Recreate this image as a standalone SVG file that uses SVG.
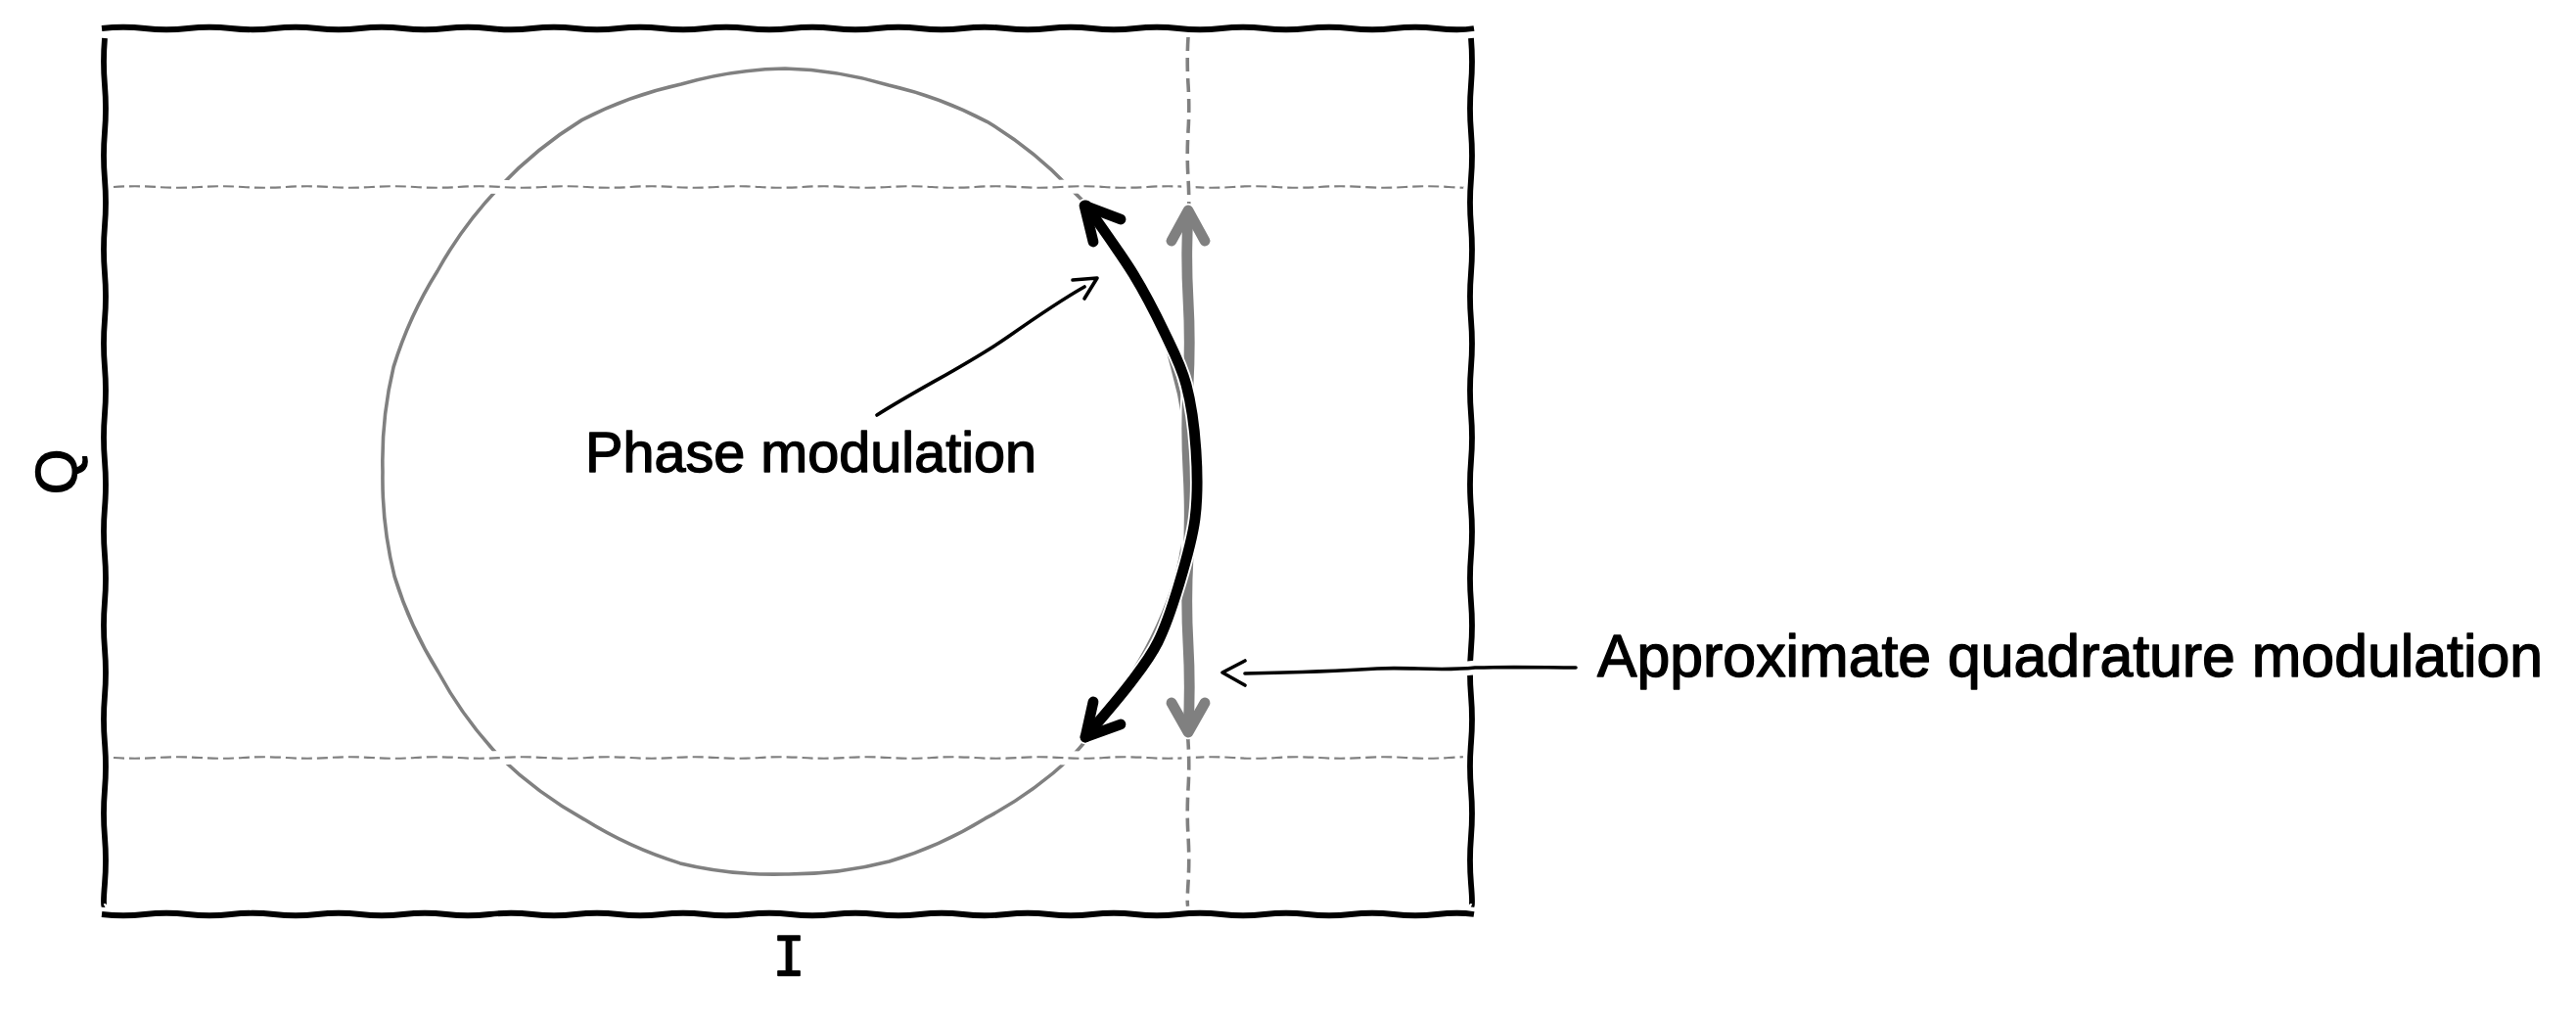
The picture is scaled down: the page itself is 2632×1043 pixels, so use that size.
<svg xmlns="http://www.w3.org/2000/svg" xmlns:xlink="http://www.w3.org/1999/xlink" width="2632" height="1043" viewBox="0 0 2632 1043">
<style>
.halo{fill:none;stroke:#ffffff;stroke-width:14.4;stroke-linecap:round;stroke-linejoin:round}
.spine{fill:none;stroke:#000000;stroke-width:5.8;stroke-linecap:butt}
.circ{fill:none;stroke:#808080;stroke-width:3.6}
.hdash{fill:none;stroke:#808080;stroke-width:2.2;stroke-dasharray:11 5}
.vdash{fill:none;stroke:#808080;stroke-width:3.6;stroke-dasharray:14 7}
.garrow{fill:none;stroke:#808080;stroke-width:10.8;stroke-linecap:round;stroke-linejoin:round}
.barrow{fill:none;stroke:#000000;stroke-width:10.8;stroke-linecap:round;stroke-linejoin:round}
.ann{fill:none;stroke:#000000;stroke-width:3.6;stroke-linecap:round;stroke-linejoin:round}
.txt{font-family:"Liberation Sans",Arial,sans-serif;fill:#000000;stroke:#000000;stroke-width:1.4;stroke-linejoin:round}
.mono{font-family:"DejaVu Sans Mono","Liberation Mono",monospace;fill:#000000;stroke:#000000;stroke-width:1.4;stroke-linejoin:round}
</style>
<defs>
<path id="spTop" d="M104 29 Q126 26.5 148 29 T192 29 T236 29 T280 29 T324 29 T368 29 T412 29 T456 29 T500 29 T544 29 T588 29 T632 29 T676 29 T720 29 T764 29 T808 29 T852 29 T896 29 T940 29 T984 29 T1028 29 T1072 29 T1116 29 T1160 29 T1204 29 T1248 29 T1292 29 T1336 29 T1380 29 T1424 29 T1468 29 T1506 29"/>
<path id="spBot" d="M104 934 Q126 936.5 148 934 T192 934 T236 934 T280 934 T324 934 T368 934 T412 934 T456 934 T500 934 T544 934 T588 934 T632 934 T676 934 T720 934 T764 934 T808 934 T852 934 T896 934 T940 934 T984 934 T1028 934 T1072 934 T1116 934 T1160 934 T1204 934 T1248 934 T1292 934 T1336 934 T1380 934 T1424 934 T1468 934 T1506 934"/>
<path id="spLeft" d="M107 39 Q105 63 107 87 T107 135 T107 183 T107 231 T107 279 T107 327 T107 375 T107 423 T107 471 T107 519 T107 567 T107 615 T107 663 T107 711 T107 759 T107 807 T107 855 T107 903 T107 926"/>
<path id="spRight" d="M1503 39 Q1505 63 1503 87 T1503 135 T1503 183 T1503 231 T1503 279 T1503 327 T1503 375 T1503 423 T1503 471 T1503 519 T1503 567 T1503 615 T1503 663 T1503 711 T1503 759 T1503 807 T1503 855 T1503 903 T1503 926"/>
<path id="hd1" d="M116 191 Q138 189.5 160 191 T204 191 T248 191 T292 191 T336 191 T380 191 T424 191 T468 191 T512 191 T556 191 T600 191 T644 191 T688 191 T732 191 T776 191 T820 191 T864 191 T908 191 T952 191 T996 191 T1040 191 T1084 191 T1128 191 T1172 191 T1216 191 T1260 191 T1304 191 T1348 191 T1392 191 T1436 191 T1480 191 T1495 191"/>
<path id="hd2" d="M116 774 Q138 775.5 160 774 T204 774 T248 774 T292 774 T336 774 T380 774 T424 774 T468 774 T512 774 T556 774 T600 774 T644 774 T688 774 T732 774 T776 774 T820 774 T864 774 T908 774 T952 774 T996 774 T1040 774 T1084 774 T1128 774 T1172 774 T1216 774 T1260 774 T1304 774 T1348 774 T1392 774 T1436 774 T1480 774 T1495 774"/>
<path id="vd" d="M1214 38 Q1212.5 62 1214 86 T1214 134 T1214 182 T1214 230 T1214 278 T1214 326 T1214 374 T1214 422 T1214 470 T1214 518 T1214 566 T1214 614 T1214 662 T1214 710 T1214 758 T1214 806 T1214 854 T1214 902 T1214 927"/>
<path id="gShaft" d="M1214 218 Q1211.5 262 1214 306 T1214 394 T1214 482 T1214 570 T1214 658 T1214 746"/>
<path id="gHeadTop" d="M1197 246 L1214 215 L1231 246"/>
<path id="gHeadBot" d="M1197 718 L1214 748 L1231 718"/>
<path id="bArc" d="M1110 210 C1118 221.7 1144.7 258.3 1158 280 C1171.3 301.7 1181 321.2 1190 340 C1199 358.8 1206.7 373 1212 393 C1217.3 413 1220.5 437.2 1222 460 C1223.5 482.8 1224 506.8 1221 530 C1218 553.2 1210.3 578 1204 599 C1197.7 620 1191.3 639.3 1183 656 C1174.7 672.7 1166.3 682.8 1154 699 C1141.7 715.2 1116.5 744 1109 753"/>
<path id="bHeadTop" d="M1117 247 L1108 210 L1145 224"/>
<path id="bHeadBot" d="M1117 717 L1109 753 L1145 740"/>
<path id="aPhase" d="M896 424 C940 396 990 372 1030 344 C1060 323 1085 306 1108 293"/>
<path id="aPhaseHead" d="M1096 286 L1121 284 L1108 305"/>
<path id="aQuad" d="M1272 688 C1320 687 1360 686 1407 683 C1440 681 1470 686 1507 682 C1550 681 1580 682 1610 682"/>
<path id="aQuadHead" d="M1272 675 L1249 687 L1272 700"/>
</defs>

<g id="circle">
<path class="circ" d="M1214 482 A412 412 0 0 1 1201.9 589.1 A412 412 0 0 1 1157.1 687 A412 412 0 0 1 1094 774 A412 412 0 0 1 1006.5 836.2 A412 412 0 0 1 908.6 880 A412 412 0 0 1 802 893 A412 412 0 0 1 694.9 881.9 A412 412 0 0 1 597 837.1 A412 412 0 0 1 510.7 773.3 A412 412 0 0 1 447.8 686.5 A412 412 0 0 1 403.1 588.9 A412 412 0 0 1 391 482 A412 412 0 0 1 402.1 374.9 A412 412 0 0 1 446.9 277 A412 412 0 0 1 510.7 190.7 A412 412 0 0 1 594.5 122.6 A412 412 0 0 1 695.9 86 A412 412 0 0 1 802 70 A412 412 0 0 1 907.9 86.9 A412 412 0 0 1 1008.5 124.3 A412 412 0 0 1 1092.6 191.4 A412 412 0 0 1 1160.5 275 A412 412 0 0 1 1198 375.9 A412 412 0 0 1 1214 482 Z"/>
</g>

<g id="guides">
<use xlink:href="#hd1" href="#hd1" class="halo"/>
<use xlink:href="#hd1" href="#hd1" class="hdash"/>
<use xlink:href="#hd2" href="#hd2" class="halo"/>
<use xlink:href="#hd2" href="#hd2" class="hdash"/>
<use xlink:href="#vd" href="#vd" class="halo"/>
<use xlink:href="#vd" href="#vd" class="vdash"/>
</g>

<g id="axes-frame">
<use xlink:href="#spLeft" href="#spLeft" class="halo"/>
<use xlink:href="#spLeft" href="#spLeft" class="spine"/>
<use xlink:href="#spRight" href="#spRight" class="halo"/>
<use xlink:href="#spRight" href="#spRight" class="spine"/>
<use xlink:href="#spTop" href="#spTop" class="halo"/>
<use xlink:href="#spTop" href="#spTop" class="spine"/>
<use xlink:href="#spBot" href="#spBot" class="halo"/>
<use xlink:href="#spBot" href="#spBot" class="spine"/>
</g>

<g id="connectors">
<g id="quadrature-arrow">
<use xlink:href="#gShaft" href="#gShaft" class="halo"/>
<use xlink:href="#gHeadTop" href="#gHeadTop" class="halo"/>
<use xlink:href="#gHeadBot" href="#gHeadBot" class="halo"/>
<use xlink:href="#gShaft" href="#gShaft" class="garrow"/>
<use xlink:href="#gHeadTop" href="#gHeadTop" class="garrow"/>
<use xlink:href="#gHeadBot" href="#gHeadBot" class="garrow"/>
</g>
<g id="phase-arrow">
<use xlink:href="#bArc" href="#bArc" class="halo"/>
<use xlink:href="#bHeadTop" href="#bHeadTop" class="halo"/>
<use xlink:href="#bHeadBot" href="#bHeadBot" class="halo"/>
<use xlink:href="#bArc" href="#bArc" class="barrow"/>
<use xlink:href="#bHeadTop" href="#bHeadTop" class="barrow"/>
<use xlink:href="#bHeadBot" href="#bHeadBot" class="barrow"/>
</g>
<g id="phase-annotation">
<use xlink:href="#aPhase" href="#aPhase" class="halo"/>
<use xlink:href="#aPhaseHead" href="#aPhaseHead" class="halo"/>
<use xlink:href="#aPhase" href="#aPhase" class="ann"/>
<use xlink:href="#aPhaseHead" href="#aPhaseHead" class="ann"/>
</g>
<g id="quadrature-annotation">
<use xlink:href="#aQuad" href="#aQuad" class="halo"/>
<use xlink:href="#aQuadHead" href="#aQuadHead" class="halo"/>
<use xlink:href="#aQuad" href="#aQuad" class="ann"/>
<use xlink:href="#aQuadHead" href="#aQuadHead" class="ann"/>
</g>
</g>

<g id="label-phase">
<text class="txt" x="598" y="482" font-size="58" textLength="461" lengthAdjust="spacingAndGlyphs">Phase modulation</text>
</g>
<g id="label-quadrature">
<text class="txt" x="1632" y="691" font-size="61" textLength="966" lengthAdjust="spacingAndGlyphs">Approximate quadrature modulation</text>
</g>
<g id="label-I">
<text class="mono" x="806" y="996" font-size="55" text-anchor="middle">I</text>
</g>
<g id="label-Q">
<text class="txt" transform="translate(78 482) rotate(-90)" font-size="60" text-anchor="middle">Q</text>
</g>
</svg>
